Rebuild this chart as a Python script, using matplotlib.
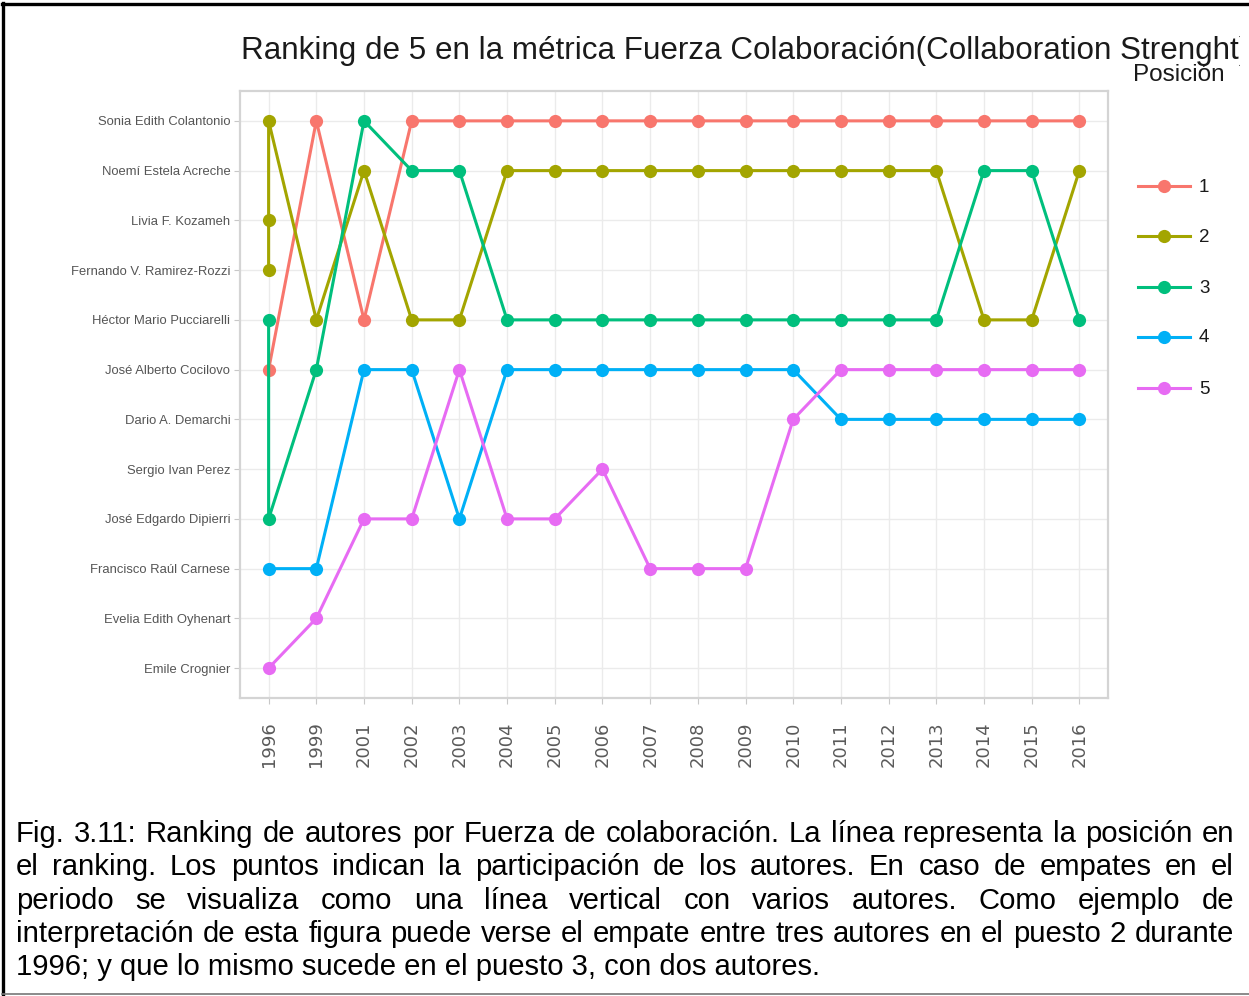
import matplotlib
matplotlib.use("Agg")
import matplotlib.pyplot as plt
from matplotlib.lines import Line2D
from matplotlib.transforms import Bbox, TransformedBbox

# ---------------- data ----------------
years = ['1996', '1999', '2001', '2002', '2003', '2004', '2005', '2006', '2007',
         '2008', '2009', '2010', '2011', '2012', '2013', '2014', '2015', '2016']

authors = ["Sonia Edith Colantonio", "Noemí Estela Acreche", "Livia F. Kozameh",
           "Fernando V. Ramirez-Rozzi", "Héctor Mario Pucciarelli", "José Alberto Cocilovo",
           "Dario A. Demarchi", "Sergio Ivan Perez", "José Edgardo Dipierri",
           "Francisco Raúl Carnese", "Evelia Edith Oyhenart", "Emile Crognier"]

SON, NOE, LIV, FER, HEC, COC, DEM, PER, DIP, CAR, OYH, CRO = authors

# author(s) holding each position, per year (ties listed together)
pos1 = [[COC], [SON], [HEC], [SON], [SON], [SON], [SON], [SON], [SON], [SON],
        [SON], [SON], [SON], [SON], [SON], [SON], [SON], [SON]]
pos2 = [[FER, LIV, SON], [HEC], [NOE], [HEC], [HEC], [NOE], [NOE], [NOE], [NOE], [NOE],
        [NOE], [NOE], [NOE], [NOE], [NOE], [HEC], [HEC], [NOE]]
pos3 = [[HEC, DIP], [COC], [SON], [NOE], [NOE], [HEC], [HEC], [HEC], [HEC], [HEC],
        [HEC], [HEC], [HEC], [HEC], [HEC], [NOE], [NOE], [HEC]]
pos4 = [[CAR], [CAR], [COC], [COC], [DIP], [COC], [COC], [COC], [COC], [COC],
        [COC], [COC], [DEM], [DEM], [DEM], [DEM], [DEM], [DEM]]
pos5 = [[CRO], [OYH], [DIP], [DIP], [COC], [DIP], [DIP], [PER], [CAR], [CAR],
        [CAR], [DEM], [COC], [COC], [COC], [COC], [COC], [COC]]

series = [pos1, pos2, pos3, pos4, pos5]
series_labels = ['1', '2', '3', '4', '5']
colors = ['#F8766D', '#A3A500', '#00BF7D', '#00B0F6', '#E76BF3']

title = "Ranking de 5 en la métrica Fuerza Colaboración(Collaboration Strenght)"
legend_title = "Posición"
caption_lines = [
    "Fig. 3.11: Ranking de autores por Fuerza de colaboración. La línea representa la posición en",
    "el ranking. Los puntos indican la participación de los autores. En caso de empates en el",
    "periodo se visualiza como una línea vertical con varios autores. Como ejemplo de",
    "interpretación de esta figura puede verse el empate entre tres autores en el puesto 2 durante",
    "1996; y que lo mismo sucede en el puesto 3, con dos autores.",
]

# ---------------- figure ----------------
W, H = 1249, 996
fig = plt.figure(figsize=(W / 100, H / 100), dpi=100)
fig.patch.set_facecolor('white')

def fx(px):
    return px / W

def fy(py):
    return 1 - py / H

ax = fig.add_axes([fx(240), fy(698), fx(1108) - fx(240), fy(91) - fy(698)])

year_idx = {y: i for i, y in enumerate(years)}
auth_idx = {a: i for i, a in enumerate(authors)}

xs_all, ys_all = [], []
for s in series:
    xs, ys = [], []
    for yr, names in zip(years, s):
        for n in names:
            xs.append(year_idx[yr])
            ys.append(auth_idx[n])
    xs_all.append(xs)
    ys_all.append(ys)

for xs, ys, c in zip(xs_all, ys_all, colors):
    ax.plot(xs, ys, 'o', ms=9.5, color=c, zorder=2, markeredgewidth=0)
for xs, ys, c in zip(xs_all, ys_all, colors):
    ax.plot(xs, ys, '-', lw=2.2, color=c, zorder=3, solid_capstyle='butt')

ax.set_xlim(-0.6, len(years) - 1 + 0.6)
ax.set_ylim(len(authors) - 1 + 0.6, -0.6)
ax.set_xticks(range(len(years)))
ax.set_xticklabels(years, rotation=90, fontsize=13, color='#5a5a5a',
                   family='DejaVu Sans', va='top')
ax.set_yticks(range(len(authors)))
ax.set_yticklabels(authors, fontsize=9.4, color='#555555', family='Liberation Sans')
ax.tick_params(axis='x', length=4, width=0.8, color='#c8c8c8', pad=13)
ax.tick_params(axis='y', length=4, width=0.8, color='#c8c8c8', pad=3)
ax.grid(True, color='#ebebeb', lw=1.0, zorder=0)
ax.set_axisbelow(True)
for sp in ax.spines.values():
    sp.set_color('#d4d4d4')
    sp.set_linewidth(1.6)

# title (clipped at the right like the reference)
t = fig.text(fx(241), fy(59), title, fontsize=22.6, family='Liberation Sans',
             color='#1a1a1a', ha='left', va='baseline')
t.set_clip_box(TransformedBbox(Bbox([[0, 0], [1240 / W, 1]]), fig.transFigure))
t.set_clip_on(True)

# legend
fig.text(fx(1133), fy(81), legend_title, fontsize=17.5, family='Liberation Sans',
         color='#1a1a1a', ha='left', va='baseline')
leg_y = [186, 236, 287, 337, 388]
for yy, c, lab in zip(leg_y, colors, series_labels):
    fig.add_artist(Line2D([fx(1138), fx(1190)], [fy(yy), fy(yy)], color=c, lw=2.2,
                          transform=fig.transFigure))
    fig.add_artist(Line2D([fx(1164)], [fy(yy)], marker='o', ms=9.5, color=c,
                          markeredgewidth=0, transform=fig.transFigure))
    fig.text(fx(1199), fy(yy + 1), lab, fontsize=13.5, family='Liberation Sans',
             color='#1a1a1a', ha='left', va='center')

# caption, justified
renderer = fig.canvas.get_renderer()
x0, x1 = 16, 1234
base = [842, 875, 909, 942, 975]
cap_fs = 21.1
for i, (line, by) in enumerate(zip(caption_lines, base)):
    words = line.split(' ')
    if i == len(caption_lines) - 1:
        fig.text(fx(x0), fy(by), line, fontsize=cap_fs, family='Liberation Sans',
                 color='black', ha='left', va='baseline')
        continue
    texts = [fig.text(0, fy(by), w, fontsize=cap_fs, family='Liberation Sans',
                      color='black', ha='left', va='baseline') for w in words]
    widths = [tx.get_window_extent(renderer).width for tx in texts]
    gap = (x1 - x0 - sum(widths)) / (len(words) - 1)
    cx = x0
    for tx, wd in zip(texts, widths):
        tx.set_x(fx(cx))
        cx += wd + gap

# frame of the document screenshot
fig.add_artist(Line2D([fx(3), fx(3)], [fy(3), fy(995)], color='black', lw=2.4,
                      transform=fig.transFigure))
fig.add_artist(Line2D([fx(2), fx(1249)], [fy(4), fy(4)], color='black', lw=2.4,
                      transform=fig.transFigure))
fig.add_artist(Line2D([fx(2), fx(1249)], [fy(994), fy(994)], color='#777777', lw=1.2,
                      transform=fig.transFigure))

fig.savefig('out.png', dpi=100)
